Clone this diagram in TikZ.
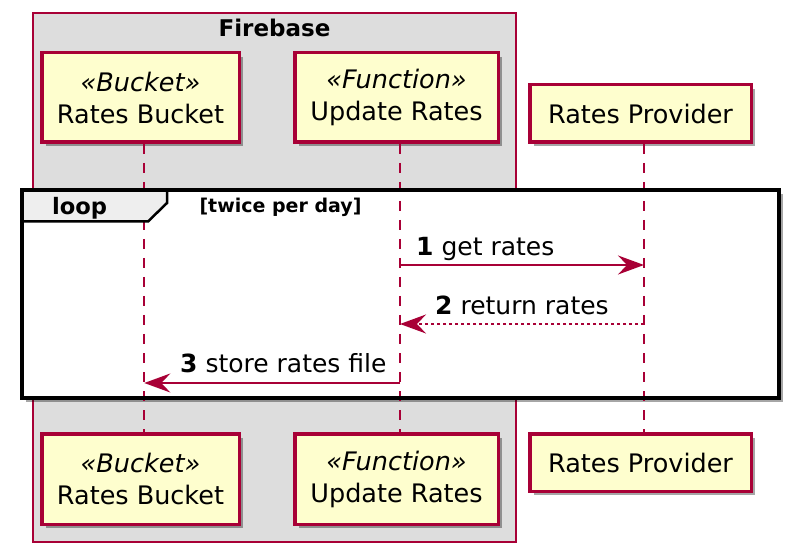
\documentclass[tikz,border=0pt]{standalone}
\usepackage{fontspec}
\setmainfont{DejaVu Sans}
\usetikzlibrary{arrows.meta,shadows}
\definecolor{pumlred}{HTML}{A80036}
\definecolor{pumlfill}{HTML}{FEFECE}
\definecolor{boxgray}{HTML}{DDDDDD}
\definecolor{tabgray}{HTML}{EEEEEE}
\tikzset{
  pshadow/.style={drop shadow={shadow xshift=4pt, shadow yshift=-4pt, fill=black, opacity=0.35}},
  participant/.style={draw=pumlred, fill=pumlfill, line width=3.5pt, inner sep=0pt,
    align=center, font=\fontsize{25.5}{32}\selectfont, pshadow},
  lifeline/.style={draw=pumlred, line width=2pt, dash pattern=on 10pt off 9pt},
  msg/.style={draw=pumlred, line width=2pt, -{Stealth[length=26pt,width=19pt,inset=9pt]}},
  retmsg/.style={msg, dash pattern=on 3pt off 3pt},
  msglabel/.style={anchor=base west, inner sep=0pt, font=\fontsize{25}{30}\selectfont},
}
\begin{document}
\begin{tikzpicture}[x=1pt,y=-1pt]
\useasboundingbox (0,0) rectangle (806,553);
% Firebase box
\node[draw=pumlred, fill=boxgray, line width=2pt, minimum width=483pt, minimum height=529pt, inner sep=0pt] (fb) at (274.5,277.5) {};
\node[anchor=base, inner sep=0pt, font=\fontsize{23}{28}\selectfont\bfseries] (fbt) at (274.5,37) {Firebase};
% participants top
\node[participant, minimum width=197.5pt, minimum height=89.5pt] (rb) at (140.5,97.5) {{\itshape «Bucket»}\\Rates Bucket};
\node[participant, minimum width=203.5pt, minimum height=89.5pt] (ur) at (396.5,97.5) {{\itshape «Function»}\\Update Rates};
\node[participant, minimum width=221.5pt, minimum height=57.5pt] (rp) at (640.5,113.5) {Rates Provider};
% participants bottom
\node[participant, minimum width=197.5pt, minimum height=90.5pt] (rbb) at (140.5,479) {{\itshape «Bucket»}\\Rates Bucket};
\node[participant, minimum width=203.5pt, minimum height=90.5pt] (urb) at (396.5,479) {{\itshape «Function»}\\Update Rates};
\node[participant, minimum width=221.5pt, minimum height=57.5pt] (rpb) at (640.5,462.5) {Rates Provider};
% loop frame body
\node[fill=white, minimum width=757pt, minimum height=208pt, inner sep=0pt, pshadow] (loopbody) at (400.5,294) {};
% lifeline coordinates
\coordinate (l1t) at (144.3,144);
\coordinate (l1b) at (144.3,432);
\coordinate (l2t) at (400,144);
\coordinate (l2b) at (400,432);
\coordinate (l3t) at (644,144);
\coordinate (l3b) at (644,432);
\draw[lifeline] (l1t) -- (l1b);
\draw[lifeline] (l2t) -- (l2b);
\draw[lifeline] (l3t) -- (l3b);
% loop tab and frame
\draw[line width=2.5pt, fill=tabgray] (22,190) -- (167,190) -- (167,203) -- (148,221.5) -- (22,221.5) -- cycle;
\draw[line width=4pt] (loopbody.north west) rectangle (loopbody.south east);
\node[anchor=base, inner sep=0pt, font=\fontsize{22.6}{27}\selectfont\bfseries] (looplbl) at (79.5,215) {loop};
\node[anchor=base, inner sep=0pt, font=\fontsize{19}{23}\selectfont\bfseries] (loopcond) at (280.5,213) {[twice per day]};
% messages
\coordinate (m1s) at (400,265);
\coordinate (m1e) at (644,265);
\coordinate (m2s) at (644,324);
\coordinate (m2e) at (400,324);
\coordinate (m3s) at (400,383);
\coordinate (m3e) at (144.3,383);
\draw[msg] (m1s) -- (m1e);
\draw[retmsg] (m2s) -- (m2e);
\draw[msg] (m3s) -- (m3e);
\node[msglabel] (t1) at (416,256) {\textbf{1} get rates};
\node[msglabel] (t2) at (435,315) {\textbf{2} return rates};
\node[msglabel] (t3) at (180,373) {\textbf{3} store rates file};
\end{tikzpicture}
\end{document}
